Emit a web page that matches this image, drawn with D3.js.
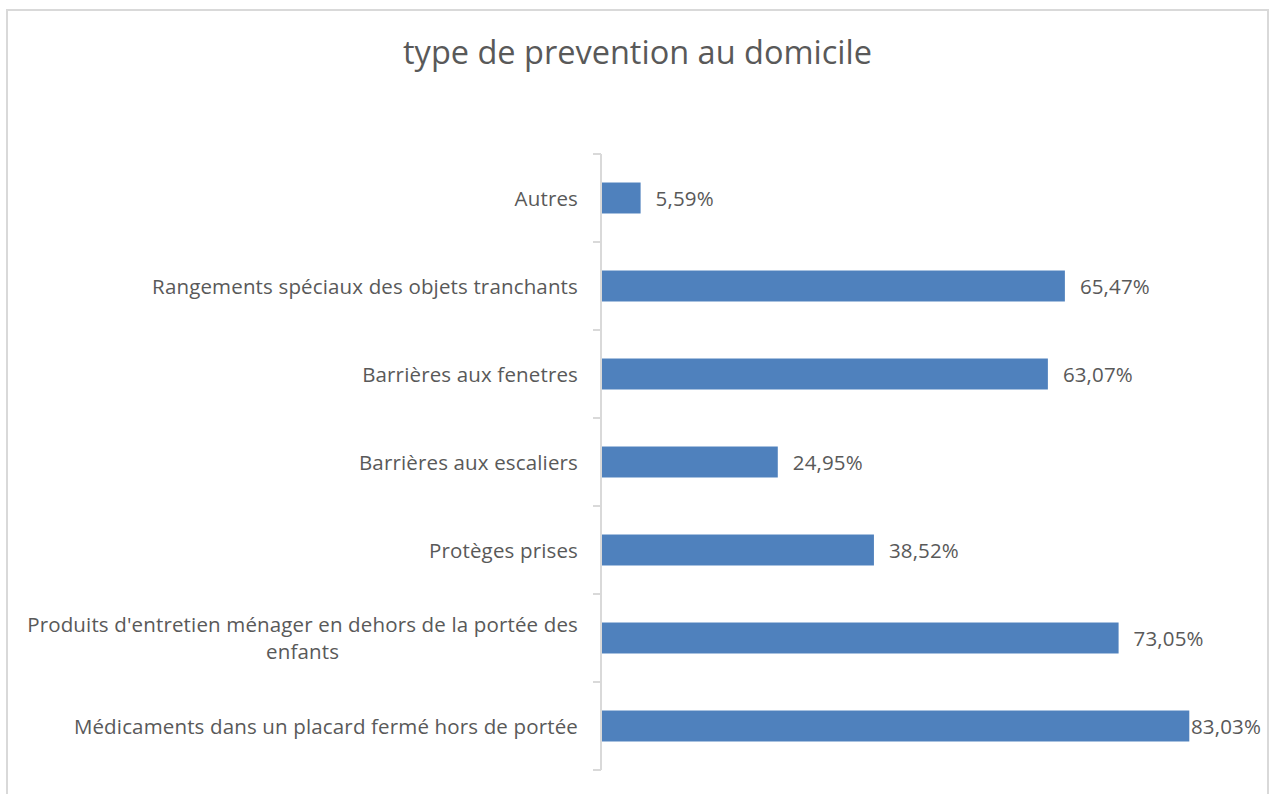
<!DOCTYPE html>
<html><head><meta charset="utf-8">
<script src="https://cdn.jsdelivr.net/npm/d3@7"></script>
<style>body{margin:0;background:#fff;} svg{display:block;}</style>
</head><body>
<svg id="chart" width="1271" height="794"></svg>
<script>
const title = "type de prevention au domicile";
const categories = [
  "Autres",
  "Rangements spéciaux des objets tranchants",
  "Barrières aux fenetres",
  "Barrières aux escaliers",
  "Protèges prises",
  "Produits d'entretien ménager en dehors de la portée des enfants",
  "Médicaments dans un placard fermé hors de portée"
];
const values = [5.59, 65.47, 63.07, 24.95, 38.52, 73.05, 83.03];
const valueLabels = ["5,59%", "65,47%", "63,07%", "24,95%", "38,52%", "73,05%", "83,03%"];

const svg = d3.select("#chart");
const font = "'Open Sans', sans-serif";
const textColor = "#595959";
const fs = 20.5;
const ls = 0.15;

svg.append("rect").attr("x", 7).attr("y", 10).attr("width", 1261).attr("height", 800)
  .attr("fill", "#fff").attr("stroke", "#d9d9d9").attr("stroke-width", 2);

svg.append("text").attr("x", 637.5).attr("y", 64).attr("text-anchor", "middle")
  .attr("font-family", font).attr("font-size", 32.5).attr("fill", textColor).text(title);

const x0 = 601, y0 = 154, y1 = 770;
const x = d3.scaleLinear().domain([0, 83.03]).range([x0, 1189.3]);
const y = d3.scaleBand().domain(categories).range([y0, y1]).paddingInner(0.648).paddingOuter(0.324);

const step = y.step();
const g = svg.append("g");
g.append("line").attr("x1", x0).attr("x2", x0).attr("y1", y0).attr("y2", y1)
  .attr("stroke", "#d9d9d9").attr("stroke-width", 2);
d3.range(categories.length + 1).forEach(i => {
  const yy = y0 + i * step;
  g.append("line").attr("x1", x0 - 8).attr("x2", x0).attr("y1", yy).attr("y2", yy)
    .attr("stroke", "#d9d9d9").attr("stroke-width", 2);
});

svg.append("g").selectAll("rect").data(categories).join("rect")
  .attr("x", x0 + 1).attr("y", d => y(d))
  .attr("width", (d, i) => x(values[i]) - x0 - 1).attr("height", y.bandwidth())
  .attr("fill", "#4f81bd");

function measure(s) {
  const tt = svg.append("text").attr("font-family", font).attr("font-size", fs).attr("letter-spacing", ls).text(s);
  const w = tt.node().getComputedTextLength(); tt.remove(); return w;
}
const maxLabelW = 565;
categories.forEach((c, i) => {
  const cy = y(c) + y.bandwidth() / 2;
  const t = svg.append("text").attr("font-family", font).attr("font-size", fs).attr("letter-spacing", ls)
    .attr("fill", textColor).attr("text-anchor", "middle");
  const words = c.split(" ");
  let lines = [], line = [];
  words.forEach(w => {
    const test = line.concat(w).join(" ");
    if (measure(test) > maxLabelW && line.length) { lines.push(line.join(" ")); line = [w]; }
    else line.push(w);
  });
  lines.push(line.join(" "));
  const lh = 27;
  const maxW = d3.max(lines, measure);
  const cx = 578 - maxW / 2;
  lines.forEach((l, k) => {
    t.append("tspan").attr("x", cx).attr("y", cy + 7.5 + (k - (lines.length - 1) / 2) * lh).text(l);
  });
});

categories.forEach((c, i) => {
  const t = svg.append("text").attr("font-family", font).attr("font-size", fs).attr("letter-spacing", ls)
    .attr("fill", textColor)
    .attr("y", y(c) + y.bandwidth() / 2 + 7.5).text(valueLabels[i]);
  const w = t.node().getComputedTextLength();
  let xx = x(values[i]) + 15;
  if (xx + w > 1261) xx = 1261 - w;
  t.attr("x", xx);
});
</script>
</body></html>
